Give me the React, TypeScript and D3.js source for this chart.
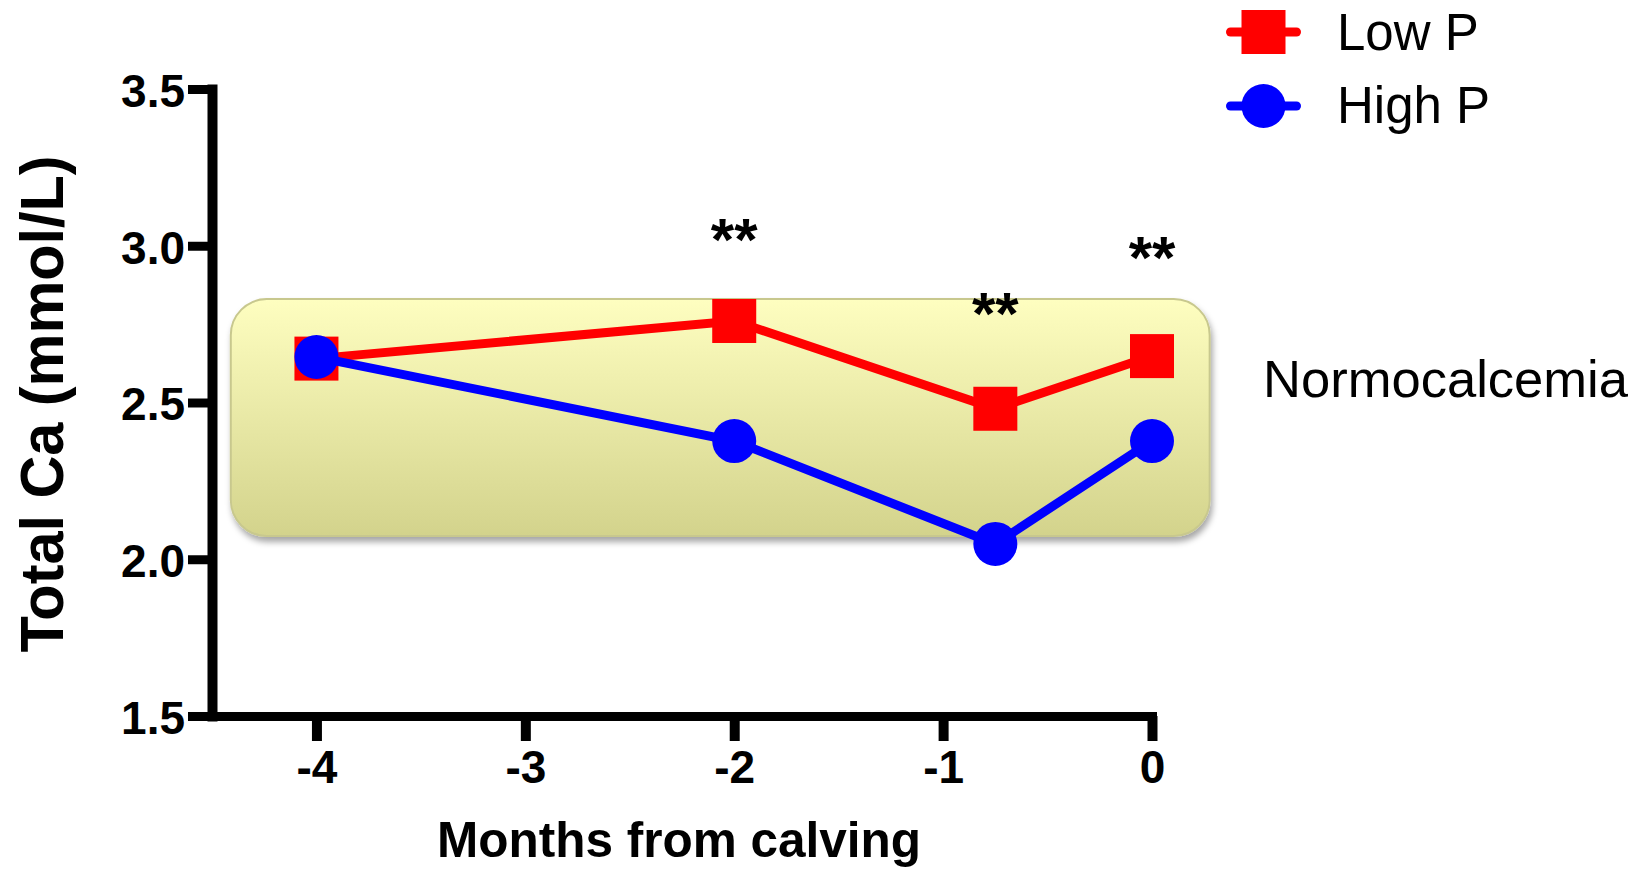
import React, { useEffect, useRef } from 'react';
import * as d3 from 'd3';

// Months from calving
const months = [-4, -2, -0.75, 0];
// Total Ca (mmol/L) per group
const lowP = [2.64, 2.76, 2.48, 2.648];
const highP = [2.645, 2.377, 2.049, 2.377];
const xTicks = [-4, -3, -2, -1, 0];
const yTicks = [1.5, 2.0, 2.5, 3.0, 3.5];
// significance marks (x, label y in data units)
const sigX = [-2, -0.75, 0];
const sigY = [2.955, 2.717, 2.896];
// normocalcemia band (data units)
const bandX = [-4.41, 0.276];
const bandY = [2.074, 2.83];

const FONT = '"Liberation Sans", Arial, Helvetica, sans-serif';

export default function App() {
  const svgRef = useRef<SVGSVGElement | null>(null);

  useEffect(() => {
    if (!svgRef.current) return;
    const width = 1647;
    const height = 869;
    const svg = d3.select(svgRef.current).attr('width', width).attr('height', height);
    svg.selectAll('*').remove();

    const x = d3.scaleLinear().domain([-4.5, 0]).range([212, 1152]);
    const y = d3.scaleLinear().domain([1.5, 3.5]).range([716, 89]);

    const defs = svg.append('defs');
    const grad = defs.append('linearGradient')
      .attr('id', 'bandGrad')
      .attr('x1', '0%').attr('y1', '0%')
      .attr('x2', '0%').attr('y2', '100%');
    grad.append('stop').attr('offset', '0%').attr('stop-color', '#fefec0');
    grad.append('stop').attr('offset', '100%').attr('stop-color', '#d3d38c');

    const shadow = defs.append('filter').attr('id', 'bandShadow')
      .attr('x', '-5%').attr('y', '-10%').attr('width', '110%').attr('height', '130%');
    shadow.append('feDropShadow')
      .attr('dx', 2).attr('dy', 5).attr('stdDeviation', 3)
      .attr('flood-color', '#000').attr('flood-opacity', 0.35);

    // Normocalcemia band
    svg.append('rect')
      .attr('x', x(bandX[0]))
      .attr('y', y(bandY[1]))
      .attr('width', x(bandX[1]) - x(bandX[0]))
      .attr('height', y(bandY[0]) - y(bandY[1]))
      .attr('rx', 36).attr('ry', 36)
      .attr('fill', 'url(#bandGrad)')
      .attr('stroke', '#c8c88e')
      .attr('stroke-width', 2)
      .attr('filter', 'url(#bandShadow)');

    svg.append('text')
      .attr('x', 1263).attr('y', 397)
      .attr('font-family', FONT).attr('font-size', 52)
      .attr('fill', '#000')
      .attr('textLength', 365).attr('lengthAdjust', 'spacingAndGlyphs')
      .text('Normocalcemia');

    // Y axis
    const yAxis = svg.append('g')
      .attr('transform', 'translate(212,0)')
      .call(d3.axisLeft(y).tickValues(yTicks).tickFormat(d3.format('.1f')).tickSize(24).tickSizeOuter(0).tickPadding(3));
    yAxis.select('.domain').attr('stroke', '#000').attr('stroke-width', 10).attr('stroke-linecap', 'square');
    yAxis.selectAll('.tick line').attr('stroke', '#000').attr('stroke-width', 9);
    yAxis.selectAll('.tick text')
      .attr('font-family', FONT).attr('font-size', 46).attr('font-weight', 'bold')
      .attr('fill', '#000').attr('dy', '0.38em');

    // X axis
    const xAxis = svg.append('g')
      .attr('transform', 'translate(0,716)')
      .call(d3.axisBottom(x).tickValues(xTicks).tickFormat(d3.format('d')).tickSize(25).tickSizeOuter(0));
    xAxis.select('.domain').attr('stroke', '#000').attr('stroke-width', 9).attr('stroke-linecap', 'square');
    xAxis.selectAll('.tick line').attr('stroke', '#000').attr('stroke-width', 10);
    xAxis.selectAll('.tick text')
      .attr('font-family', FONT).attr('font-size', 46).attr('font-weight', 'bold')
      .attr('fill', '#000').attr('y', 67).attr('dy', 0)
      .text((d: any) => (d < 0 ? '-' + Math.abs(d) : String(d)));

    // Axis titles
    svg.append('text')
      .attr('x', 679).attr('y', 857)
      .attr('text-anchor', 'middle')
      .attr('font-family', FONT).attr('font-size', 50).attr('font-weight', 'bold')
      .attr('textLength', 484).attr('lengthAdjust', 'spacingAndGlyphs')
      .text('Months from calving');

    svg.append('text')
      .attr('transform', 'translate(63,404) rotate(-90)')
      .attr('text-anchor', 'middle')
      .attr('font-family', FONT).attr('font-size', 62).attr('font-weight', 'bold')
      .attr('textLength', 497).attr('lengthAdjust', 'spacingAndGlyphs')
      .text('Total Ca (mmol/L)');

    const line = d3.line<number>().x((_, i) => x(months[i])).y(d => y(d));

    // Low P
    svg.append('path').datum(lowP)
      .attr('d', line)
      .attr('fill', 'none').attr('stroke', '#ff0000').attr('stroke-width', 9);
    svg.selectAll('.sq').data(lowP).enter().append('rect')
      .attr('class', 'sq')
      .attr('x', (_, i) => x(months[i]) - 22)
      .attr('y', d => y(d) - 22)
      .attr('width', 44).attr('height', 44)
      .attr('fill', '#ff0000');

    // High P
    svg.append('path').datum(highP)
      .attr('d', line)
      .attr('fill', 'none').attr('stroke', '#0000ff').attr('stroke-width', 9);
    svg.selectAll('.dot').data(highP).enter().append('circle')
      .attr('class', 'dot')
      .attr('cx', (_, i) => x(months[i]))
      .attr('cy', d => y(d))
      .attr('r', 22)
      .attr('fill', '#0000ff');

    // Significance stars
    svg.selectAll('.sig').data(sigX).enter().append('text')
      .attr('class', 'sig')
      .attr('x', d => x(d))
      .attr('y', (_, i) => y(sigY[i]))
      .attr('text-anchor', 'middle')
      .attr('font-family', FONT).attr('font-size', 60).attr('font-weight', 'bold')
      .text('**');

    // Legend
    const legend = [
      { label: 'Low P', color: '#ff0000', shape: 'square', cy: 32, ty: 50 },
      { label: 'High P', color: '#0000ff', shape: 'circle', cy: 106, ty: 123 },
    ];
    legend.forEach(item => {
      const g = svg.append('g');
      g.append('line')
        .attr('x1', 1230.5).attr('x2', 1296.5)
        .attr('y1', item.cy).attr('y2', item.cy)
        .attr('stroke', item.color).attr('stroke-width', 9).attr('stroke-linecap', 'round');
      if (item.shape === 'square') {
        g.append('rect')
          .attr('x', 1263.5 - 22).attr('y', item.cy - 22)
          .attr('width', 44).attr('height', 44)
          .attr('fill', item.color);
      } else {
        g.append('circle')
          .attr('cx', 1263.5).attr('cy', item.cy).attr('r', 22)
          .attr('fill', item.color);
      }
      g.append('text')
        .attr('x', 1337).attr('y', item.ty)
        .attr('font-family', FONT).attr('font-size', 51)
        .attr('fill', '#000')
        .text(item.label);
    });
  }, []);

  return (
    <div style={{ position: 'absolute', left: 0, top: 0, width: 1647, height: 869, background: '#fff' }}>
      <svg ref={svgRef} style={{ display: 'block' }}></svg>
    </div>
  );
}
